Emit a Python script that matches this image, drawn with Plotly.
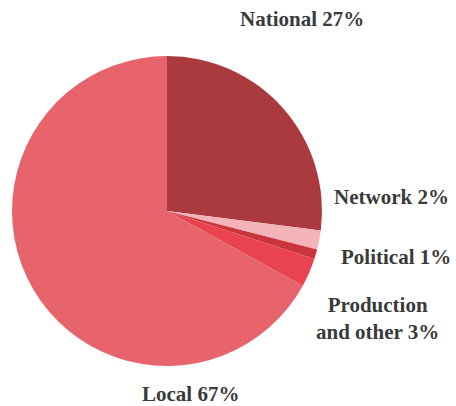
import plotly.graph_objects as go

labels = ["National", "Network", "Political", "Production<br>and other", "Local"]
values = [27, 2, 1, 3, 67]
colors = ["#ab3a3f", "#f3b3b8", "#c9353c", "#e9434f", "#e8646c"]

# label centres in window pixels
label_x = [302, 391, 396, 377, 190]
label_y = [19, 197, 257, 318, 394]

W, H = 456, 406
cx, cy, r = 167, 211, 155

fig = go.Figure(go.Pie(
    labels=labels, values=values,
    marker=dict(colors=colors, line=dict(width=0)),
    sort=False, direction="clockwise", rotation=0,
    textinfo="none", hoverinfo="label+percent",
    domain=dict(x=[(cx - r) / W, (cx + r) / W], y=[1 - (cy + r) / H, 1 - (cy - r) / H]),
    showlegend=False,
))

for lab, v, x, y in zip(labels, values, label_x, label_y):
    fig.add_annotation(
        x=x / W, y=1 - y / H, xref="paper", yref="paper",
        text=f"{lab} {v}%", showarrow=False,
        font=dict(family="Liberation Serif", size=21, color="#3a3a3a", weight="bold"),
        xanchor="center", yanchor="middle", align="center",
    )

fig.update_layout(
    width=W, height=H, margin=dict(l=0, r=0, t=0, b=0),
    paper_bgcolor="white", plot_bgcolor="white",
)
fig.write_html(
    "out.html",
    config={"displayModeBar": False},
    post_script="document.body.style.margin='0';document.body.style.overflow='hidden';",
)
